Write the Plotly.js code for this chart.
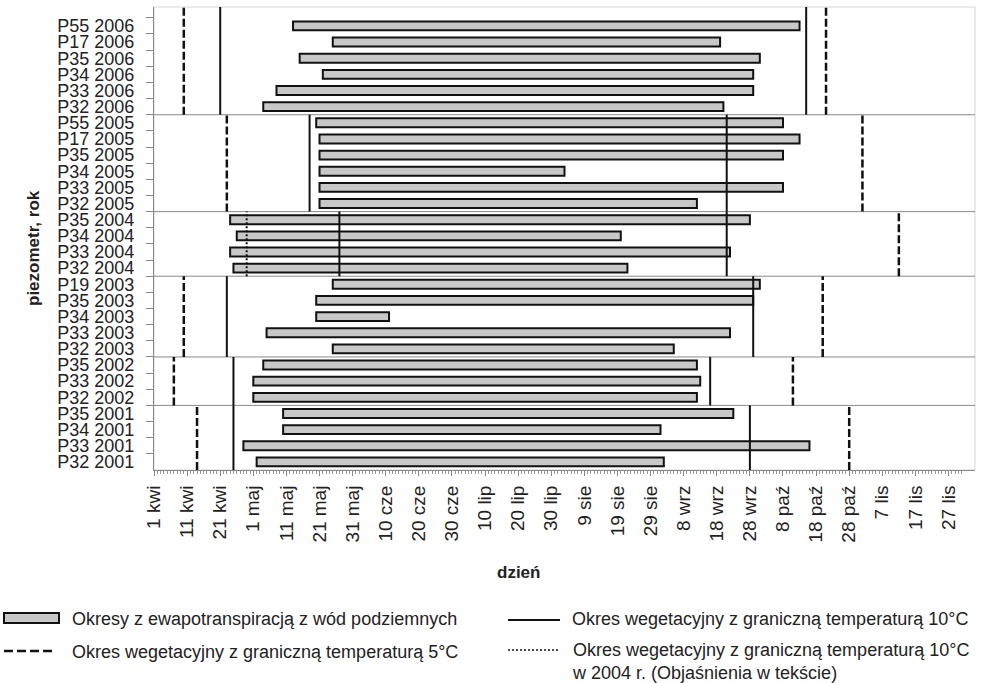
<!DOCTYPE html>
<html><head><meta charset="utf-8">
<script src="https://cdn.plot.ly/plotly-3.0.1.min.js"></script>
<style>html,body{margin:0;padding:0;background:#fff}#chart{width:981px;height:683px}</style>
</head><body><div id="chart"></div>
<script>
// ---- data (days counted from 1 April) ----
const piezometers = ['P32','P33','P34','P35', 'P32','P33','P35', 'P32','P33','P34','P35','P19',
  'P32','P33','P34','P35', 'P32','P33','P34','P35','P17','P55', 'P32','P33','P34','P35','P17','P55'];
const rowYears = [2001,2001,2001,2001, 2002,2002,2002, 2003,2003,2003,2003,2003,
  2004,2004,2004,2004, 2005,2005,2005,2005,2005,2005, 2006,2006,2006,2006,2006,2006];
const etStart = [31,27,39,39, 30,30,33, 54,34,49,49,54, 24,23,25,23, 50,50,50,50,50,49, 33,37,51,44,54,42];
const etEnd   = [154,198,153,175, 164,165,164, 157,174,71,181,183, 143,174,141,180, 164,190,124,190,195,190, 172,181,181,183,171,195];

const vegYears   = [2001,2002,2003,2004,2005,2006];
const veg5Start  = [13,6,9,null,22,9];
const veg10Start = [24,24,22,56,47,20];
const veg10End   = [180,168,181,173,173,197];
const veg5End    = [210,193,202,225,214,203];
const veg10Alt2004Year = [2004];
const veg10Alt2004Start = [28];

const tickDays = [0,10,20,30,40,50,60,70,80,90,100,110,120,130,140,150,160,170,180,190,200,210,220,230,240];
const tickLabels = ['1 kwi','11 kwi','21 kwi','1 maj','11 maj','21 maj','31 maj','10 cze','20 cze','30 cze',
  '10 lip','20 lip','30 lip','9 sie','19 sie','29 sie','8 wrz','18 wrz','28 wrz','8 paź','18 paź','28 paź',
  '7 lis','17 lis','27 lis'];

// ---- layout constants ----
const W = 981, H = 683;
const M = {l:154, r:6, t:7, b:213};
const PW = W - M.l - M.r, PH = H - M.t - M.b;
const X_RANGE = [0, 248];
const Y_RANGE = [-0.5, 28.17];
const FONT = 'Liberation Sans, Arial, sans-serif';
const TXT = '#222';

const rowIdx = piezometers.map((_, i) => i);
const rowLabels = piezometers.map((p, i) => p + ' ' + rowYears[i]);

// group extents
const groupBounds = {};
vegYears.forEach((y, gi) => {
  const idx = rowIdx.filter(i => rowYears[i] === y);
  const lo = Math.min(...idx) - 0.5;
  const hi = gi === vegYears.length - 1 ? Y_RANGE[1] : Math.max(...idx) + 0.5;
  groupBounds[y] = [lo, hi];
});

function vLines(yearsArr, vals) {
  const xs = [], ys = [];
  yearsArr.forEach((y, i) => {
    if (vals[i] === null || vals[i] === undefined) return;
    xs.push(vals[i], vals[i], null);
    ys.push(groupBounds[y][0], groupBounds[y][1], null);
  });
  return {xs, ys};
}

const traces = [];
traces.push({
  type: 'bar', orientation: 'h',
  y: rowIdx, base: etStart, x: etEnd.map((e, i) => e - etStart[i]),
  width: 0.55,
  marker: {color: '#c8c8c8', line: {color: '#111', width: 2}},
  hoverinfo: 'skip', showlegend: false
});
function lineTrace(yearsArr, vals, dash, width) {
  const d = vLines(yearsArr, vals);
  return {type: 'scatter', mode: 'lines', x: d.xs, y: d.ys, connectgaps: false,
    line: {color: '#111', width: width, dash: dash}, hoverinfo: 'skip', showlegend: false};
}
traces.push(lineTrace(vegYears, veg5Start, '8px,3px', 2.5));
traces.push(lineTrace(vegYears, veg5End, '8px,3px', 2.5));
traces.push(lineTrace(vegYears, veg10Start, 'solid', 2));
traces.push(lineTrace(vegYears, veg10End, 'solid', 2));
traces.push(lineTrace(veg10Alt2004Year, veg10Alt2004Start, '2px,2px', 2));

// helpers for pixel -> paper
const px = x => (x - M.l) / PW;
const py = y => (H - M.b - y) / PH;

const shapes = [];
// frame (top/right light grey)
shapes.push({type:'rect', xref:'paper', yref:'paper', x0:0, x1:1, y0:0, y1:1,
  line:{color:'#d6d6d6', width:1}, layer:'below'});
// group separators
vegYears.slice(0, -1).forEach(y => {
  shapes.push({type:'line', xref:'paper', yref:'y', x0:0, x1:1, y0:groupBounds[y][1], y1:groupBounds[y][1],
    line:{color:'#8a8a8a', width:1}, layer:'below'});
});

// manual legend
shapes.push({type:'rect', xref:'paper', yref:'paper', x0:px(4), x1:px(59), y0:py(623), y1:py(613),
  fillcolor:'#c8c8c8', line:{color:'#111', width:2}});
shapes.push({type:'line', xref:'paper', yref:'paper', x0:px(4), x1:px(56), y0:py(651), y1:py(651),
  line:{color:'#111', width:2.5, dash:'9px,4px'}});
shapes.push({type:'line', xref:'paper', yref:'paper', x0:px(508), x1:px(560), y0:py(620), y1:py(620),
  line:{color:'#111', width:2}});
shapes.push({type:'line', xref:'paper', yref:'paper', x0:px(508), x1:px(560), y0:py(650), y1:py(650),
  line:{color:'#111', width:1.5, dash:'2px,2px'}});

const legFont = {family: FONT, size: 18, color: TXT};
const annotations = [
  {xref:'paper', yref:'paper', x:px(70), y:py(619), xanchor:'left', yanchor:'middle', showarrow:false,
   text:'Okresy z ewapotranspiracją z wód podziemnych', font:legFont},
  {xref:'paper', yref:'paper', x:px(70), y:py(652), xanchor:'left', yanchor:'middle', showarrow:false,
   text:'Okres wegetacyjny z graniczną temperaturą 5°C', font:legFont},
  {xref:'paper', yref:'paper', x:px(570), y:py(619), xanchor:'left', yanchor:'middle', showarrow:false,
   text:'Okres wegetacyjny z graniczną temperaturą 10°C', font:legFont},
  {xref:'paper', yref:'paper', x:px(570), y:py(661), xanchor:'left', yanchor:'middle', align:'left', showarrow:false,
   text:'Okres wegetacyjny z graniczną temperaturą 10°C<br>w 2004 r. (Objaśnienia w tekście)', font:legFont},
  // axis titles
  {xref:'paper', yref:'paper', x:px(518), y:py(572), xanchor:'center', yanchor:'middle', showarrow:false,
   text:'<b>dzień</b>', font:{family:FONT, size:17, color:TXT}},
  {xref:'paper', yref:'paper', x:px(33), y:py(248), xanchor:'center', yanchor:'middle', showarrow:false,
   textangle:-90, text:'<b>piezometr, rok</b>', font:{family:FONT, size:17, color:TXT}}
];

const minorX = [];
for (let d = 0; d <= 244; d++) minorX.push(d);

const layout = {
  width: W, height: H, margin: M,
  paper_bgcolor: '#fff', plot_bgcolor: '#fff',
  font: {family: FONT, color: TXT},
  showlegend: false, bargap: 0,
  xaxis: {
    range: X_RANGE, autorange: false, fixedrange: true,
    tickmode: 'array', tickvals: tickDays, ticktext: tickLabels, tickangle: -90,
    ticks: 'outside', ticklen: 5, tickwidth: 1, tickcolor: '#888',
    ticklabelstandoff: 2,
    tickfont: {family: FONT, size: 19, color: TXT},
    minor: {tickmode: 'array', tickvals: minorX, ticks: 'outside', ticklen: 3, tickcolor: '#999', tickwidth: 1},
    showgrid: false, zeroline: false, showline: true, linecolor: '#888', linewidth: 1,
    automargin: false
  },
  yaxis: {
    range: Y_RANGE, autorange: false, fixedrange: true,
    tickmode: 'array', tickvals: rowIdx, ticktext: rowLabels,
    ticks: '', ticklabelstandoff: 15,
    tickfont: {family: FONT, size: 18, color: TXT},
    minor: {tickmode: 'array', tickvals: rowIdx.map(i => i + 0.5), ticks: 'outside', ticklen: 7, tickcolor: '#888', tickwidth: 1},
    showgrid: false, zeroline: false, showline: true, linecolor: '#888', linewidth: 1,
    automargin: false
  },
  shapes: shapes,
  annotations: annotations
};

Plotly.newPlot('chart', traces, layout, {staticPlot: true, displayModeBar: false});
</script>
</body></html>
